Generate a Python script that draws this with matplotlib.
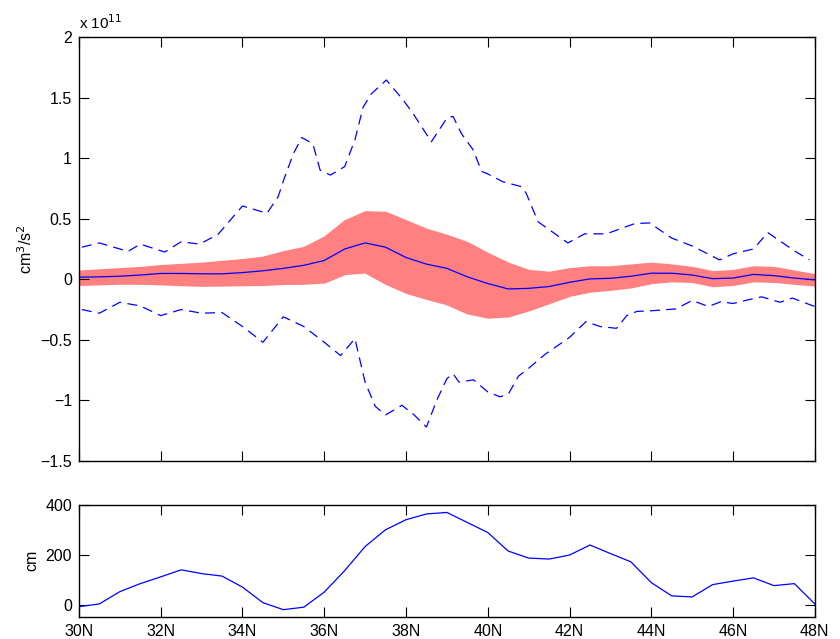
import numpy as np
import matplotlib
matplotlib.use("Agg")
import matplotlib.pyplot as plt
from matplotlib.ticker import FuncFormatter

plt.rcParams['font.family'] = ['Liberation Sans', 'DejaVu Sans']

# latitude grid (deg N) for mean, spread band and SSH
lat = np.arange(30, 48.5, 0.5)

# mean flux, units of 1e11 cm^3/s^2
flux_mean = [0.017, 0.02, 0.025, 0.035, 0.048, 0.048, 0.045, 0.045, 0.055, 0.07,
             0.09, 0.115, 0.155, 0.25, 0.30, 0.265, 0.18, 0.125, 0.09, 0.02,
             -0.035, -0.08, -0.075, -0.06, -0.025, 0.003, 0.008, 0.025, 0.05, 0.05,
             0.035, 0.005, 0.01, 0.04, 0.03, 0.01, -0.005]
band_hi = [0.065, 0.075, 0.085, 0.095, 0.11, 0.12, 0.13, 0.145, 0.16, 0.18,
           0.225, 0.26, 0.345, 0.48, 0.555, 0.55, 0.48, 0.41, 0.36, 0.30,
           0.21, 0.13, 0.07, 0.055, 0.085, 0.10, 0.10, 0.115, 0.13, 0.115,
           0.095, 0.06, 0.07, 0.10, 0.095, 0.065, 0.035]
band_lo = [-0.04, -0.035, -0.03, -0.03, -0.035, -0.042, -0.047, -0.045, -0.042, -0.04,
           -0.032, -0.03, -0.02, 0.05, 0.063, -0.03, -0.105, -0.155, -0.20, -0.275,
           -0.31, -0.30, -0.25, -0.19, -0.13, -0.095, -0.08, -0.06, -0.025, -0.01,
           -0.015, -0.05, -0.04, -0.01, -0.015, -0.03, -0.045]

# max / min envelopes (dashed)
max_lat = [30.07, 30.5, 31.2, 31.5, 32.1, 32.5, 32.95, 33.4, 34.0, 34.6, 34.87, 35.04,
           35.25, 35.45, 35.72, 35.9, 36.15, 36.5, 36.75, 36.95, 37.15, 37.52, 37.93,
           38.17, 38.62, 39.0, 39.15, 39.36, 39.64, 39.85, 39.97, 40.37, 40.82, 40.94,
           41.23, 41.96, 42.37, 42.9, 43.6, 43.96, 44.5, 45.0, 45.67, 46.0, 46.5,
           46.85, 47.5, 47.87]
max_val = [0.265, 0.30, 0.23, 0.29, 0.225, 0.31, 0.29, 0.37, 0.605, 0.545, 0.68, 0.85,
           1.04, 1.17, 1.12, 0.90, 0.86, 0.93, 1.15, 1.42, 1.53, 1.645, 1.48,
           1.37, 1.135, 1.33, 1.345, 1.2, 1.07, 0.89, 0.875, 0.805, 0.765, 0.71,
           0.475, 0.30, 0.375, 0.375, 0.46, 0.465, 0.34, 0.275, 0.16, 0.21, 0.25,
           0.385, 0.235, 0.16]
min_lat = [30.07, 30.5, 31.0, 31.5, 32.0, 32.5, 33.0, 33.5, 34.0, 34.5, 35.0, 35.5,
           36.0, 36.4, 36.75, 37.0, 37.25, 37.5, 37.9, 38.2, 38.5, 38.75, 39.0, 39.15,
           39.3, 39.65, 40.0, 40.3, 40.5, 40.75, 41.0, 41.4, 41.7, 42.0, 42.4, 42.75,
           43.15, 43.4, 43.65, 44.0, 44.6, 45.0, 45.4, 45.7, 46.0, 46.3, 46.7, 47.15,
           47.45, 48.0]
min_val = [-0.25, -0.28, -0.19, -0.22, -0.30, -0.25, -0.28, -0.275, -0.39, -0.52, -0.31, -0.39,
           -0.52, -0.63, -0.49, -0.85, -1.05, -1.12, -1.04, -1.12, -1.22, -1.0, -0.82, -0.78,
           -0.85, -0.83, -0.93, -0.97, -0.95, -0.80, -0.735, -0.62, -0.55, -0.48, -0.35, -0.39,
           -0.405, -0.30, -0.265, -0.26, -0.245, -0.175, -0.225, -0.185, -0.20, -0.175, -0.145, -0.19,
           -0.155, -0.225]

# sea surface height (cm)
ssh = [-7, 4, 53, 85, 112, 140, 125, 115, 71, 9, -19, -9, 51, 137, 233, 300, 340, 363,
       369, 329, 289, 215, 187, 183, 199, 239, 205, 172, 89, 36, 32, 81, 95, 108, 77, 85, 4]

xticks = [30, 32, 34, 36, 38, 40, 42, 44, 46, 48]
xticklabels = ['%dN' % v for v in xticks]


def matlab_fmt(v, pos):
    s = '%g' % v
    return s.replace('-', '\u2212')


fig = plt.figure(figsize=(8.4, 6.39), dpi=100)
ax1 = fig.add_axes([0.094, 0.2786, 0.876, 0.6635])
ax2 = fig.add_axes([0.094, 0.0349, 0.876, 0.1753])

ax1.fill_between(lat, band_lo, band_hi, facecolor='#ff8080', edgecolor='#ff8080',
                 lw=2, joinstyle='round')
ax1.plot(lat, flux_mean, color='#0000ff', lw=0.9)
ax1.plot(max_lat, max_val, color='#0000ff', lw=0.9, ls=(0, (8, 5)))
ax1.plot(min_lat, min_val, color='#0000ff', lw=0.9, ls=(0, (8, 5)))
ax1.set_xlim(30, 48)
ax1.set_ylim(-1.5, 2)
ax1.set_yticks([-1.5, -1, -0.5, 0, 0.5, 1, 1.5, 2])
ax1.yaxis.set_major_formatter(FuncFormatter(matlab_fmt))
ax1.set_xticks(xticks)
ax1.set_xticklabels([])
ax1.set_ylabel('cm$^3$/s$^2$', fontsize=11.5, labelpad=4)
ax1.text(0.0, 1.012, 'x 10$^{11}$', transform=ax1.transAxes, fontsize=11,
         ha='left', va='bottom')

ax2.plot(lat, ssh, color='#0000ff', lw=0.9)
ax2.set_xlim(30, 48)
ax2.set_ylim(-47, 400)
ax2.set_yticks([0, 200, 400])
ax2.set_xticks(xticks)
ax2.set_xticklabels(xticklabels)
ax2.set_ylabel('cm', fontsize=11.5, labelpad=4)

for ax in (ax1, ax2):
    ax.tick_params(direction='in', length=7, width=0.8, top=True, right=True,
                   labelsize=11.5, pad=5)
    for sp in ax.spines.values():
        sp.set_linewidth(1.0)

fig.savefig('out.png', dpi=100)
